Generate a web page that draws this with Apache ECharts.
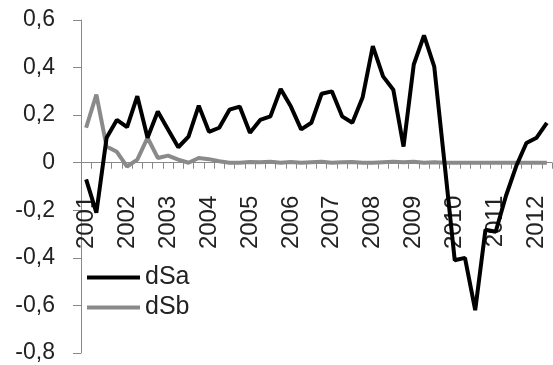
<!DOCTYPE html>
<html lang="en">
<head>
  <meta charset="UTF-8">
  <title>dSa dSb</title>
  <script src="https://cdn.jsdelivr.net/npm/echarts@6/dist/echarts.min.js"></script>
  <style>
    html, body { margin: 0; padding: 0; background: #fff; }
    #container { width: 553px; height: 365px; }
  </style>
</head>
<body>
  <div id="container"></div>
  <script>
    // quarterly categories 2001Q1 .. 2012Q2
    const years = ['2001', '2002', '2003', '2004', '2005', '2006', '2007', '2008', '2009', '2010', '2011', '2012'];
    const quarters = [];
    years.forEach(y => ['1', '2', '3', '4'].forEach(q => quarters.push(y + 'Q' + q)));
    const categories = quarters.slice(0, 46);

    const dSa = [
      -0.07, -0.21, 0.105, 0.18, 0.15, 0.28, 0.105, 0.215, 0.14, 0.065,
      0.11, 0.24, 0.13, 0.147, 0.223, 0.236, 0.126, 0.18, 0.195, 0.31,
      0.236, 0.14, 0.168, 0.29, 0.30, 0.195, 0.168, 0.274, 0.49, 0.363,
      0.307, 0.068, 0.413, 0.535, 0.404, 0.0, -0.41, -0.40, -0.62, -0.282,
      -0.29, -0.14, -0.015, 0.083, 0.105, 0.168
    ];
    const dSb = [
      0.147, 0.286, 0.068, 0.046, -0.016, 0.013, 0.105, 0.02, 0.03, 0.013,
      0.0, 0.02, 0.015, 0.006, 0.0, 0.0, 0.003, 0.002, 0.004, 0.0,
      0.003, 0.0, 0.002, 0.004, 0.0, 0.002, 0.003, 0.0, 0.0, 0.002,
      0.004, 0.002, 0.004, 0.0, 0.002, 0.0, 0.0, 0.0, 0.0, 0.0,
      0.0, 0.0, 0.0, 0.0, 0.0, 0.0
    ];
    const yTicks = { min: -0.8, max: 0.6, step: 0.2 };

    const W = 553, H = 365;
    const grid = { left: 81, right: 1, top: 20, bottom: 12 };
    // ECharts 6 keeps onZero labels at the grid edge, so lift the whole x axis up to y = 0
    const plotH = H - grid.top - grid.bottom;
    const zeroLift = (0 - yTicks.min) / (yTicks.max - yTicks.min) * plotH;

    const font = 'Liberation Sans';
    const chart = echarts.init(document.getElementById('container'));

    chart.setOption({
      animation: false,
      backgroundColor: '#fff',
      grid: Object.assign({ containLabel: false, outerBoundsMode: 'none' }, grid),
      legend: {
        orient: 'vertical',
        left: 82,
        top: 260,
        itemGap: 5,
        itemWidth: 53,
        itemHeight: 4,
        icon: 'rect',
        textStyle: { fontFamily: font, fontSize: 25, color: '#222' },
        data: ['dSa', 'dSb']
      },
      xAxis: {
        type: 'category',
        data: categories,
        boundaryGap: true,
        position: 'bottom',
        offset: -zeroLift,
        axisLine: { show: true, onZero: false, lineStyle: { color: '#888', width: 1 } },
        axisTick: { show: true, interval: 0, length: 6, lineStyle: { color: '#888' } },
        axisLabel: {
          interval: 3,
          rotate: 90,
          align: 'right',
          verticalAlign: 'middle',
          margin: 33,
          fontFamily: font,
          fontSize: 24,
          color: '#222',
          formatter: v => v.slice(0, 4)
        },
        splitLine: { show: false }
      },
      yAxis: {
        type: 'value',
        min: yTicks.min,
        max: yTicks.max,
        interval: yTicks.step,
        axisLine: { show: true, onZero: false, lineStyle: { color: '#888', width: 1 } },
        axisTick: { show: true, length: 8, lineStyle: { color: '#888' } },
        splitLine: { show: false },
        axisLabel: {
          margin: 26,
          fontFamily: font,
          fontSize: 23,
          color: '#222',
          formatter: v => Math.abs(v) < 1e-9 ? '0' : v.toFixed(1).replace('.', ',')
        }
      },
      series: [
        {
          name: 'dSa',
          type: 'line',
          data: dSa,
          symbol: 'none',
          z: 3,
          itemStyle: { color: '#000' },
          lineStyle: { color: '#000', width: 4 }
        },
        {
          name: 'dSb',
          type: 'line',
          data: dSb,
          symbol: 'none',
          z: 2,
          itemStyle: { color: '#8a8a8a' },
          lineStyle: { color: '#8a8a8a', width: 4 }
        }
      ]
    });
  </script>
</body>
</html>
